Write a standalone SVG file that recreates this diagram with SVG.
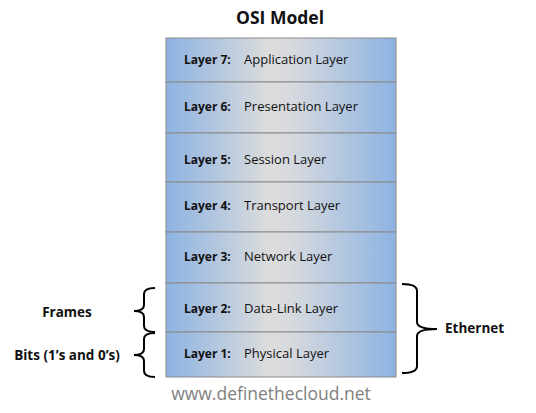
<svg xmlns="http://www.w3.org/2000/svg" width="536" height="413" viewBox="0 0 536 413">
<defs>
<linearGradient id="g" x1="0" y1="0" x2="1" y2="0">
<stop offset="0" stop-color="#8db3e2"/>
<stop offset="0.45" stop-color="#dcdcdc"/>
<stop offset="0.55" stop-color="#d6d9de"/>
<stop offset="1" stop-color="#8db3e2"/>
</linearGradient>
</defs>
<style>
.row{fill:url(#g);stroke:#8a8a8a;stroke-width:1}
.lbl{font-family:"Open Sans","Liberation Sans",sans-serif;font-size:12px;font-weight:bold;fill:#111}
.val{font-family:"Open Sans","Liberation Sans",sans-serif;font-size:13px;fill:#111}
.side{font-family:"Open Sans","Liberation Sans",sans-serif;font-size:13.5px;font-weight:bold;fill:#111}
.brace{fill:none;stroke:#000;stroke-width:2}
</style>
<rect width="536" height="413" fill="#fff"/>
<text x="280" y="24" text-anchor="middle" font-family="Open Sans, Liberation Sans, sans-serif" font-size="17.5" font-weight="bold" fill="#111">OSI Model</text>
<g id="layer7"><rect class="row" x="166" y="38" width="230" height="44"/><text class="lbl" x="184" y="64">Layer 7:</text><text class="val" x="244" y="64">Application Layer</text></g>
<g id="layer6"><rect class="row" x="166" y="82" width="230" height="51"/><text class="lbl" x="184" y="111">Layer 6:</text><text class="val" x="244" y="111">Presentation Layer</text></g>
<g id="layer5"><rect class="row" x="166" y="133" width="230" height="49"/><text class="lbl" x="184" y="164">Layer 5:</text><text class="val" x="244" y="164">Session Layer</text></g>
<g id="layer4"><rect class="row" x="166" y="182" width="230" height="50"/><text class="lbl" x="184" y="210">Layer 4:</text><text class="val" x="244" y="210">Transport Layer</text></g>
<g id="layer3"><rect class="row" x="166" y="232" width="230" height="51"/><text class="lbl" x="184" y="261">Layer 3:</text><text class="val" x="244" y="261">Network Layer</text></g>
<g id="layer2"><rect class="row" x="166" y="283" width="230" height="49"/><text class="lbl" x="184" y="313">Layer 2:</text><text class="val" x="244" y="313">Data-Link Layer</text></g>
<g id="layer1"><rect class="row" x="166" y="332" width="230" height="45"/><text class="lbl" x="184" y="358">Layer 1:</text><text class="val" x="244" y="358">Physical Layer</text></g>
<g id="connectors">
<path class="brace" d="M155,288 Q144,288 144,294 L144,305 Q144,311 134,311 Q144,311 144,317 L144,326 Q144,332 155,332"/>
<path class="brace" d="M155,333 Q144,333 144,339 L144,349 Q144,355 134,355 Q144,355 144,361 L144,371 Q144,377 155,377"/>
<path class="brace" d="M402,284 Q417,284 417,291 L417,322 Q417,329 437,329 Q417,329 417,336 L417,366 Q417,373 402,373"/>
</g>
<g id="frames"><text class="side" x="67" y="317" text-anchor="middle">Frames</text></g>
<g id="bits"><text class="side" x="67" y="360" text-anchor="middle">Bits (1’s and 0’s)</text></g>
<g id="ethernet"><text class="side" x="445" y="333">Ethernet</text></g>
<text x="271" y="400" text-anchor="middle" font-family="Open Sans, Liberation Sans, sans-serif" font-size="17.5" fill="#7f7f7f">www.definethecloud.net</text>
</svg>
